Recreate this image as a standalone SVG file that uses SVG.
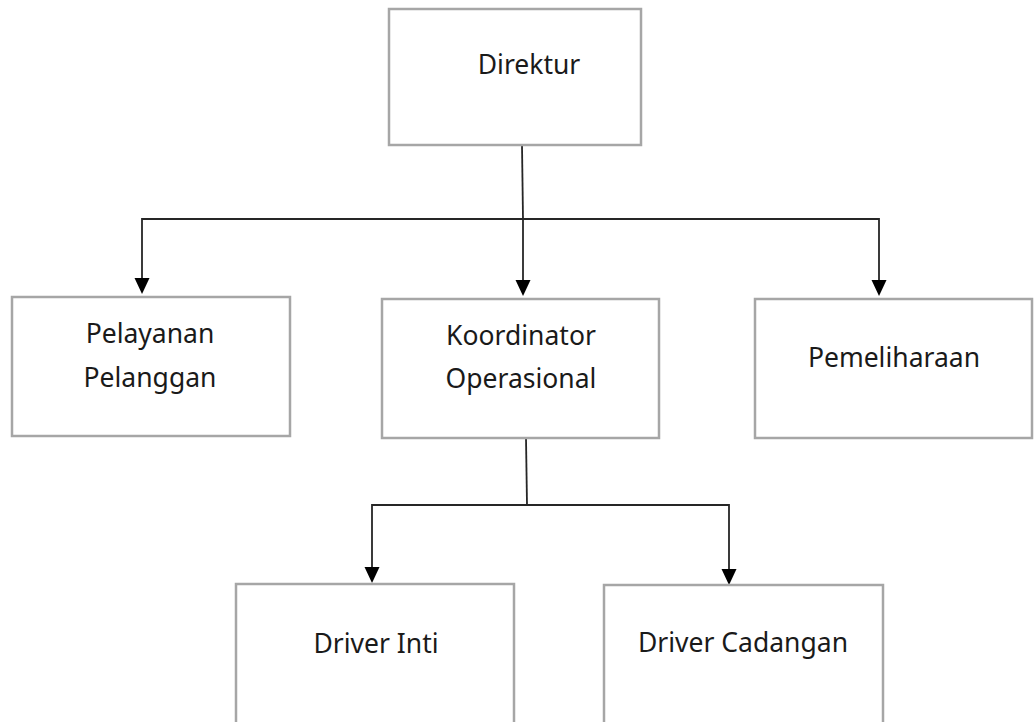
<svg xmlns="http://www.w3.org/2000/svg" width="1034" height="722" viewBox="0 0 1034 722">
<defs>
<style>
.box{fill:#ffffff;stroke:#a6a6a6;stroke-width:2.5}
.lbl{font-family:"Noto Sans","Open Sans",sans-serif;font-size:26.5px;fill:#1a1a1a;text-anchor:middle}
.con{fill:none;stroke:#262626;stroke-width:1.8}
.ah{fill:#000}
</style>
</defs>
<rect width="1034" height="722" fill="#ffffff"/>
<g id="connectors">
<line class="con" x1="522" y1="145" x2="523" y2="219"/>
<polyline class="con" points="142,280 142,219 879,219 879,282"/>
<line class="con" x1="523" y1="219" x2="523" y2="282"/>
<path class="ah" d="M134.5,278 L149.5,278 L142,294 Z"/>
<path class="ah" d="M515.5,280 L530.5,280 L523,296 Z"/>
<path class="ah" d="M871.5,280 L886.5,280 L879,296 Z"/>
<line class="con" x1="526" y1="438" x2="527" y2="505"/>
<polyline class="con" points="372,570 372,505 729,505 729,572"/>
<path class="ah" d="M364.5,567 L379.5,567 L372,583 Z"/>
<path class="ah" d="M721.5,569 L736.5,569 L729,585 Z"/>
</g>
<g id="direktur">
<rect class="box" x="389" y="9" width="252" height="136"/>
<text class="lbl" x="529" y="74">Direktur</text>
</g>
<g id="pelayanan">
<rect class="box" x="12" y="297" width="278" height="139"/>
<text class="lbl" x="150" y="343">Pelayanan</text>
<text class="lbl" x="150" y="387">Pelanggan</text>
</g>
<g id="koordinator">
<rect class="box" x="382" y="299" width="277" height="139"/>
<text class="lbl" x="521" y="345">Koordinator</text>
<text class="lbl" x="521" y="388">Operasional</text>
</g>
<g id="pemeliharaan">
<rect class="box" x="755" y="299" width="277" height="139"/>
<text class="lbl" x="894" y="367">Pemeliharaan</text>
</g>
<g id="driver-inti">
<rect class="box" x="236" y="584" width="278" height="150"/>
<text class="lbl" x="376" y="653">Driver Inti</text>
</g>
<g id="driver-cadangan">
<rect class="box" x="604" y="585" width="279" height="150"/>
<text class="lbl" x="743" y="652">Driver Cadangan</text>
</g>
</svg>
